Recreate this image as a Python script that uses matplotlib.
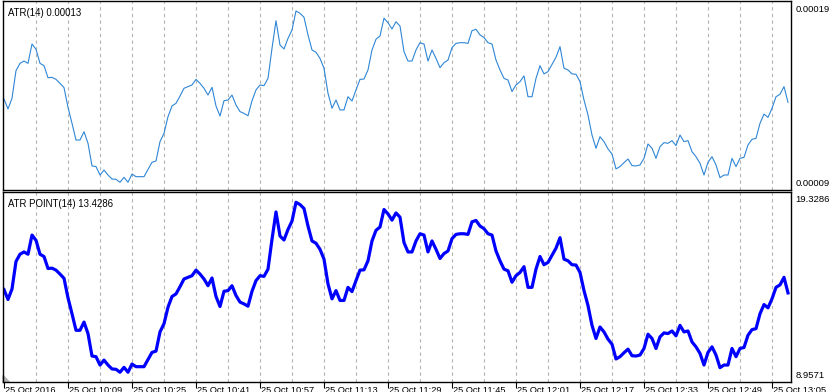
import matplotlib.pyplot as plt
import matplotlib.transforms as mtransforms
import numpy as np

plt.rcParams['font.family'] = ['Liberation Sans', 'DejaVu Sans']

# ATR in points, one value per M1 bar
atr_points = [
    14.00, 13.40, 14.04, 15.72, 16.16, 16.30, 16.16, 17.33, 17.01, 16.16,
    16.02, 15.29, 15.31, 15.19, 14.95, 14.69, 13.50, 12.53, 11.52, 11.52,
    12.02, 11.32, 9.95, 9.91, 9.40, 9.70, 9.40, 9.16, 9.14, 8.96,
    9.26, 8.96, 9.46, 9.30, 9.30, 9.30, 9.74, 10.17, 10.25, 11.42,
    11.92, 12.93, 13.58, 13.74, 14.18, 14.65, 14.75, 14.85, 15.19, 14.95,
    14.65, 14.24, 14.71, 13.58, 12.97, 13.90, 13.94, 14.24, 13.64, 13.24,
    13.13, 12.99, 13.90, 14.55, 14.85, 14.81, 15.25, 17.07, 18.74, 17.27,
    17.03, 17.67, 18.18, 19.33, 19.19, 18.95, 17.88, 16.97, 16.83, 16.46,
    15.86, 14.35, 13.44, 13.94, 13.34, 13.34, 14.14, 13.88, 14.55, 15.19,
    15.21, 15.76, 16.97, 17.62, 17.82, 18.89, 18.62, 18.24, 18.68, 18.42,
    16.87, 16.30, 16.30, 16.97, 17.41, 17.33, 16.30, 16.97, 16.46, 15.90,
    16.20, 16.36, 17.11, 17.37, 17.41, 17.41, 17.37, 18.14, 18.22, 17.88,
    17.72, 17.41, 17.33, 16.36, 15.76, 15.25, 15.15, 14.45, 14.85, 15.05,
    15.40, 14.14, 14.14, 15.25, 16.02, 15.52, 15.66, 16.10, 16.53, 17.17,
    15.86, 15.76, 15.52, 15.50, 15.05, 13.94, 13.03, 11.82, 11.02, 11.72,
    11.42, 10.98, 10.67, 9.77, 9.91, 10.15, 10.37, 9.97, 9.95, 10.01,
    10.41, 11.28, 11.02, 10.41, 11.12, 11.36, 11.32, 11.48, 11.18, 11.82,
    11.42, 11.48, 10.81, 10.51, 10.11, 9.40, 10.17, 10.51, 10.01, 9.24,
    9.40, 9.40, 10.41, 9.91, 10.41, 10.47, 11.22, 11.56, 11.62, 12.53,
    13.09, 12.89, 13.44, 14.14, 14.29, 14.75, 13.80,
]
atr_price = [v / 100000 for v in atr_points]

points_max, points_min = 19.3286, 8.9571
price_labels = ["0.00019", "0.00009"]
points_labels = ["19.3286", "8.9571"]
top_title = "ATR(14) 0.00013"
bottom_title = "ATR POINT(14) 13.4286"

tick_bars = [0, 16, 32, 48, 64, 80, 96, 112, 128, 144, 160, 176, 192]
tick_labels = ["25 Oct 2016", "25 Oct 10:09", "25 Oct 10:25", "25 Oct 10:41",
               "25 Oct 10:57", "25 Oct 11:13", "25 Oct 11:29", "25 Oct 11:45",
               "25 Oct 12:01", "25 Oct 12:17", "25 Oct 12:33", "25 Oct 12:49",
               "25 Oct 13:05"]

W, H = 835, 392
fig = plt.figure(figsize=(W / 100, H / 100), dpi=100)
fig.patch.set_facecolor("white")


def box(x0, y0, x1, y1):
    # pixel box (top-left origin) -> figure fractions
    return [x0 / W, 1 - y1 / H, (x1 - x0) / W, (y1 - y0) / H]


def shift(label, dx, dy):
    # move a tick label by a few pixels
    label.set_transform(label.get_transform() +
                        mtransforms.ScaledTranslation(dx / 100, dy / 100, fig.dpi_scale_trans))


ax1 = fig.add_axes(box(3, 1, 791, 190))
ax2 = fig.add_axes(box(3, 192, 791, 382))

bars = np.arange(len(atr_points))
grid_bars = np.arange(8, len(atr_points), 8)

for ax in (ax1, ax2):
    for g in grid_bars:
        ax.axvline(g, color="#b4b4b4", lw=0.8, ls=(0, (3, 3)), zorder=0)
    ax.set_xlim(-0.25, 196.75)
    for s in ax.spines.values():
        s.set_linewidth(1.0)
        s.set_color("black")
    ax.yaxis.tick_right()
    ax.tick_params(axis="y", length=0, pad=3, labelsize=6.8)

ax1.plot(bars, atr_price, color="#2f86d6", lw=0.8)
ax1.set_ylim(8.493e-5, 19.934e-5)
ax1.set_yticks([points_max / 1e5, points_min / 1e5])
ax1.set_yticklabels(price_labels)
ax1.set_xticks([])

ax2.plot(bars, atr_points, color="#0000ff", lw=2.3)
ax2.set_ylim(8.365, 19.957)
ax2.set_yticks([points_max, points_min])
ax2.set_yticklabels(points_labels)
ax2.set_xticks(tick_bars)
ax2.set_xticklabels(tick_labels, ha="left", fontsize=6.7)
ax2.tick_params(axis="x", length=4, width=0.8, pad=0, direction="out")

for lbl in ax2.get_xticklabels():
    shift(lbl, 1, 2)
for lbl, dy in zip(ax1.get_yticklabels(), (3, 0)):
    shift(lbl, 0, dy)
for lbl, dy in zip(ax2.get_yticklabels(), (4, -2)):
    shift(lbl, 0, dy)

# small grey shift marker in the bottom-left corner
ax2.fill([0, 0, 0.008], [0, 0.035, 0], color="#b0b0b0",
         transform=ax2.transAxes, clip_on=False)

ax1.text(0.006, 0.965, top_title, transform=ax1.transAxes,
         fontsize=6.9, va="top", ha="left")
ax2.text(0.006, 0.965, bottom_title, transform=ax2.transAxes,
         fontsize=6.9, va="top", ha="left")

fig.savefig("out.png", dpi=100)
